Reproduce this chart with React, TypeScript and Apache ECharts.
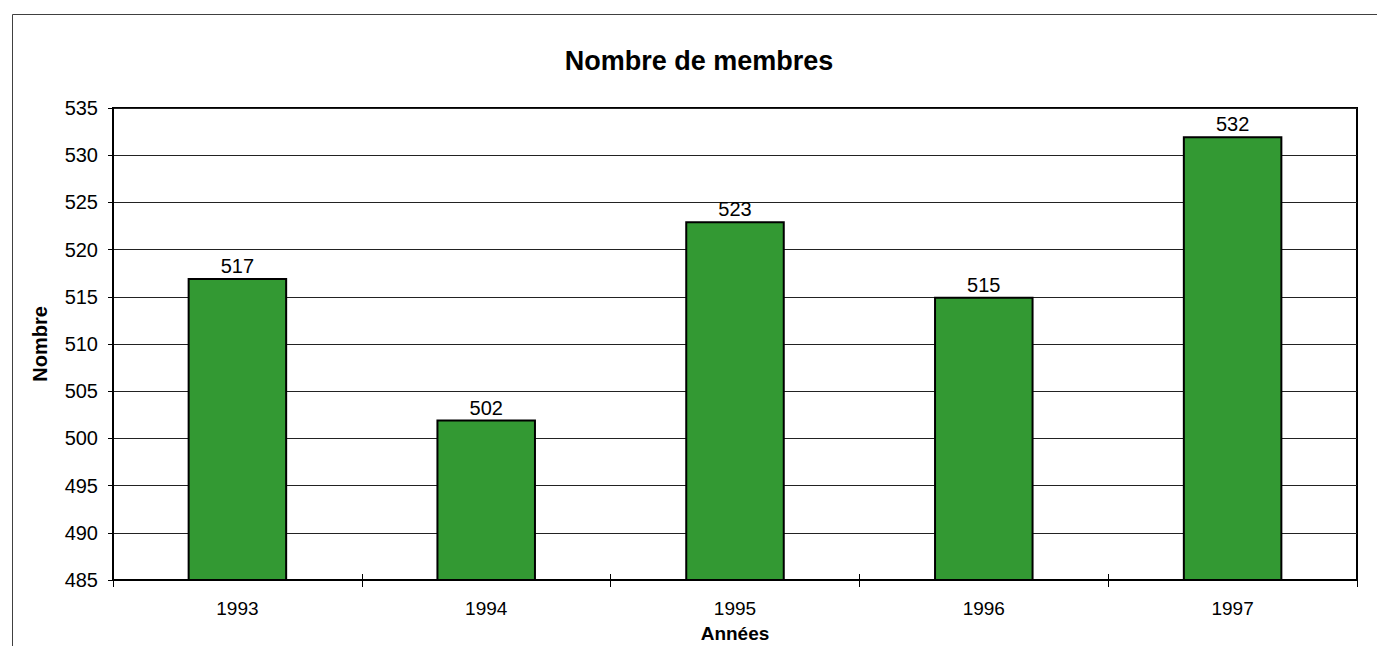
import React, { useEffect, useRef } from "react";
import * as echarts from "echarts";

const years = ["1993", "1994", "1995", "1996", "1997"];
const members = [517, 502, 523, 515, 532];
const titleText = "Nombre de membres";
const yName = "Nombre";
const xName = "Années";

export default function App() {
  const ref = useRef<HTMLDivElement>(null);
  useEffect(() => {
    if (!ref.current) return;
    const chart = echarts.init(ref.current, undefined, { renderer: "svg" });
    const font = "Arial, 'Liberation Sans', sans-serif";
    chart.setOption({
      animation: false,
      backgroundColor: "#fff",
      textStyle: { fontFamily: font },
      graphic: [
        {
          type: "rect",
          shape: { x: 12.5, y: 14.5, width: 1500, height: 800 },
          style: { fill: "none", stroke: "#404040", lineWidth: 1 },
          silent: true,
        },
        {
          type: "text",
          x: 699,
          y: 61,
          style: {
            text: titleText,
            fontSize: 27,
            fontWeight: "bold",
            fill: "#000",
            align: "center",
            verticalAlign: "middle",
            fontFamily: font,
          },
        },
        {
          type: "text",
          x: 40,
          y: 344,
          rotation: Math.PI / 2,
          style: {
            text: yName,
            fontSize: 20,
            fontWeight: "bold",
            fill: "#000",
            align: "center",
            verticalAlign: "middle",
            fontFamily: font,
          },
        },
        {
          type: "text",
          x: 735,
          y: 633,
          style: {
            text: xName,
            fontSize: 19,
            fontWeight: "bold",
            fill: "#000",
            align: "center",
            verticalAlign: "middle",
            fontFamily: font,
          },
        },
      ],
      grid: {
        left: 113,
        top: 108,
        width: 1244,
        height: 472,
        show: true,
        borderColor: "#000",
        borderWidth: 2,
        backgroundColor: "transparent",
      },
      xAxis: [
        {
          type: "category",
          data: years,
          axisLine: { lineStyle: { color: "#000", width: 2 } },
          axisTick: { show: true, length: 7, lineStyle: { color: "#000", width: 1 } },
          axisLabel: { color: "#000", fontSize: 19, margin: 19, fontFamily: font },
        },
        {
          type: "category",
          data: years,
          position: "bottom",
          axisLine: { show: false },
          axisTick: { show: true, inside: true, length: 6, lineStyle: { color: "#000", width: 1 } },
          axisLabel: { show: false },
        },
      ],
      yAxis: {
        type: "value",
        min: 485,
        max: 535,
        interval: 5,
        axisLine: { show: true, lineStyle: { color: "#000", width: 2 } },
        axisTick: { show: true, length: 5, lineStyle: { color: "#000", width: 1 } },
        axisLabel: { color: "#000", fontSize: 20, margin: 15, fontFamily: font },
        splitLine: { show: true, lineStyle: { color: "#222", width: 1 } },
      },
      series: [
        {
          type: "bar",
          data: members,
          barWidth: "40%",
          itemStyle: { color: "#339933", borderColor: "#000", borderWidth: 2 },
          label: {
            show: true,
            position: "top",
            distance: 2,
            color: "#000",
            fontSize: 20,
            fontFamily: font,
          },
        },
      ],
    });
    return () => chart.dispose();
  }, []);
  return (
    <div
      ref={ref}
      style={{ position: "fixed", left: 0, top: 0, width: 1377, height: 646 }}
    />
  );
}
